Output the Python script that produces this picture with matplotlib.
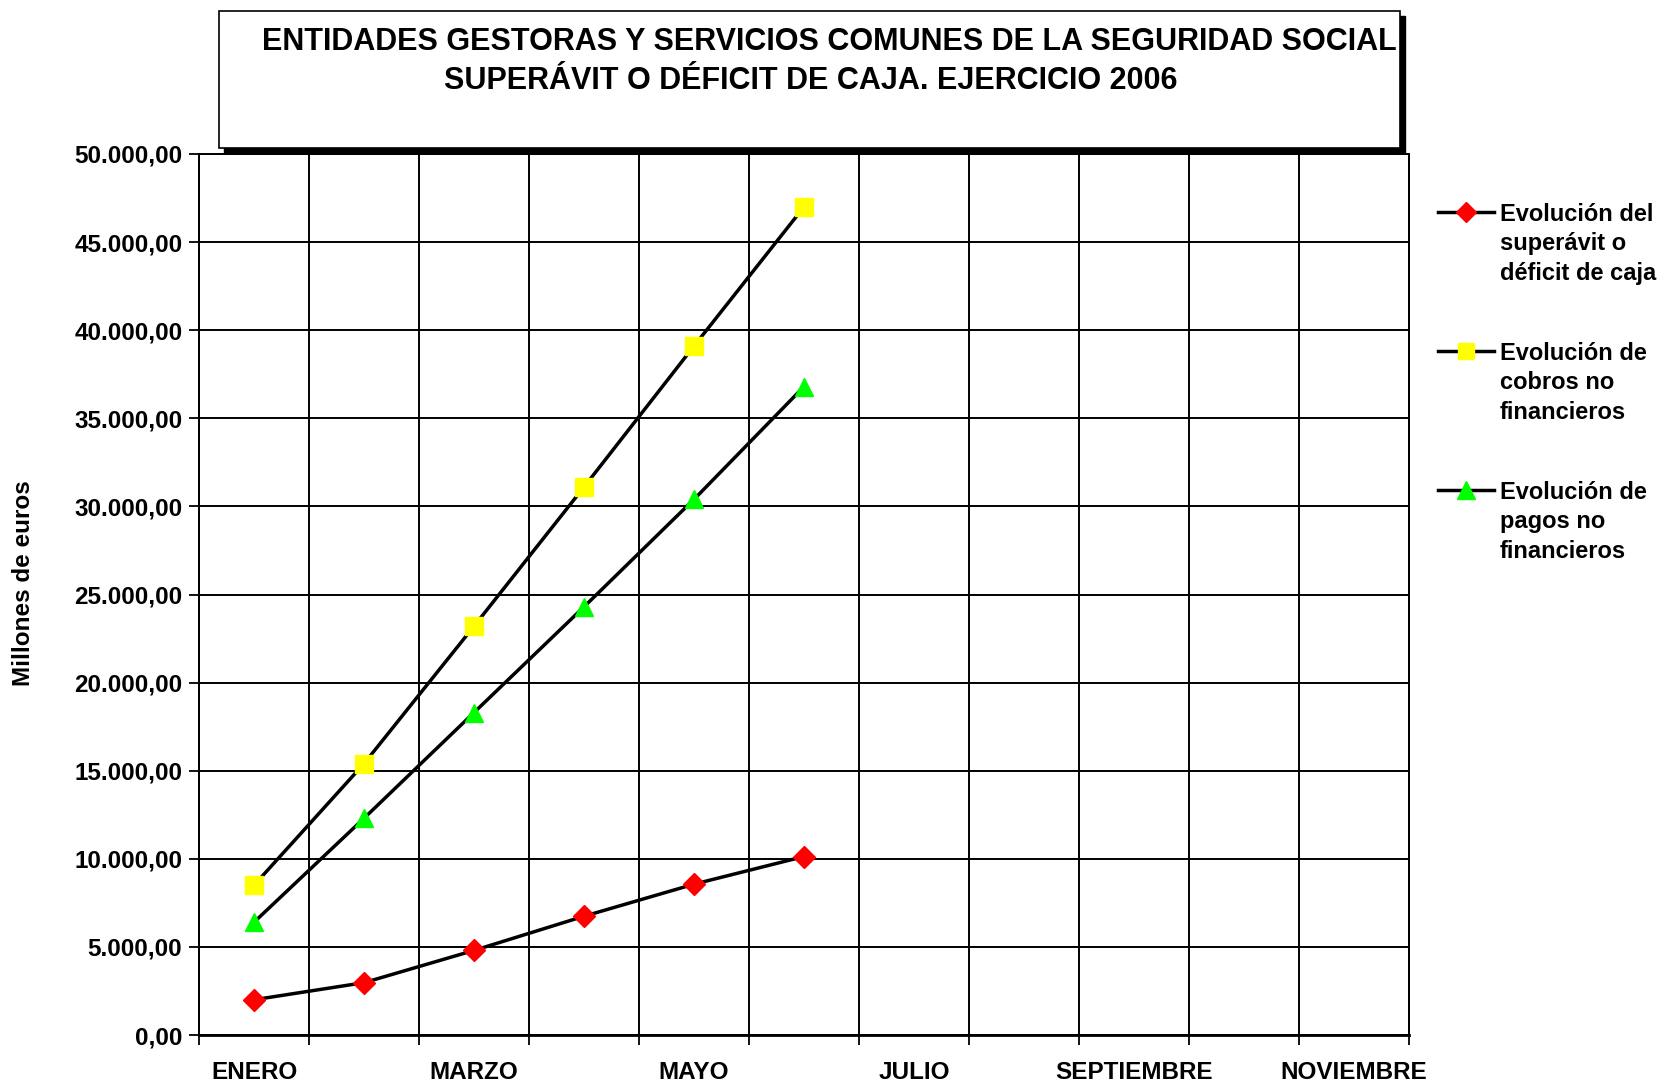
import numpy as np
import matplotlib.pyplot as plt
from matplotlib.lines import Line2D
from matplotlib.patches import Rectangle

plt.rcParams['font.family'] = ['Liberation Sans', 'DejaVu Sans']
plt.rcParams['font.weight'] = 'bold'

# datos (millones de euros)
meses = ['ENERO', 'FEBRERO', 'MARZO', 'ABRIL', 'MAYO', 'JUNIO',
         'JULIO', 'AGOSTO', 'SEPTIEMBRE', 'OCTUBRE', 'NOVIEMBRE']
superavit = [2000, 2970, 4800, 6740, 8560, 10130]
cobros = [8500, 15400, 23200, 31100, 39100, 47000]
pagos = [6400, 12300, 18300, 24300, 30400, 36800]
series_nombres = ['Evolución del\nsuperávit o\ndéficit de caja',
                  'Evolución de\ncobros no\nfinancieros',
                  'Evolución de\npagos no\nfinancieros']
y_ticks = np.arange(0, 50001, 5000)

W, H = 1676, 1083
fig = plt.figure(figsize=(W / 100, H / 100), dpi=100)
ax = fig.add_axes([199 / W, 1 - 1035 / H, (1409 - 199) / W, (1035 - 154) / H])

x = np.arange(len(meses))
estilos = [
    dict(data=superavit, marker='D', color='#ff0000', ms=11.5),
    dict(data=cobros, marker='s', color='#ffff00', ms=12.5),
    dict(data=pagos, marker='^', color='#00ff00', ms=13.5),
]
for est in estilos:
    n = len(est['data'])
    ax.plot(x[:n], est['data'], color='black', lw=2.5, marker=est['marker'],
            ms=est['ms'], mfc=est['color'], mec=est['color'], zorder=3)

ax.set_xlim(-0.5, len(meses) - 0.5)
ax.set_ylim(0, 50000)

# marcas en los limites de categoria, etiquetas cada dos meses
ax.set_xticks(np.arange(-0.5, len(meses), 1))
ax.set_xticklabels([])
ax.set_xticks(x[::2], minor=True)
ax.set_xticklabels(meses[::2], minor=True)
ax.tick_params(axis='x', which='major', length=7, width=1.3, direction='out')
ax.tick_params(axis='x', which='minor', length=0, pad=19, labelsize=17.5)
ax.set_yticks(y_ticks)
ax.set_yticklabels([f'{v:,.2f}'.replace(',', 'X').replace('.', ',').replace('X', '.') for v in y_ticks])
ax.tick_params(axis='y', length=7, width=1.3, pad=5, labelsize=17.5)

ax.grid(True, which='major', color='black', lw=1.4)
for s in ax.spines.values():
    s.set_linewidth(1.4)
ax.spines['bottom'].set_linewidth(2)

fig.text(24 / W, 1 - 583 / H, 'Millones de euros', rotation=90, fontsize=17.5,
         ha='center', va='center')

# caja del titulo con sombra
bx, by, bw, bh = 219 / W, 1 - 148 / H, (1400 - 219) / W, (148 - 11) / H
fig.patches.append(Rectangle((bx + 5 / W, by - 5 / H), bw, bh, transform=fig.transFigure,
                             facecolor='black', edgecolor='black', zorder=4))
fig.patches.append(Rectangle((bx, by), bw, bh, transform=fig.transFigure,
                             facecolor='white', edgecolor='black', lw=1.2, zorder=5))
fig.text(829 / W, 1 - 42 / H, 'ENTIDADES GESTORAS Y SERVICIOS COMUNES DE LA SEGURIDAD SOCIAL',
         ha='center', va='center', fontsize=22, zorder=6)
fig.text(811 / W, 1 - 81 / H, 'SUPERÁVIT O DÉFICIT DE CAJA. EJERCICIO 2006',
         ha='center', va='center', fontsize=22, zorder=6)

# leyenda
for i, (nombre, est) in enumerate(zip(series_nombres, estilos)):
    yl = 1 - (212 + i * 139) / H
    fig.add_artist(Line2D([1438 / W, 1494 / W], [yl, yl], color='black', lw=2.5,
                          transform=fig.transFigure))
    fig.add_artist(Line2D([1466 / W], [yl], marker=est['marker'], ms=est['ms'] - 1,
                          mfc=est['color'], mec=est['color'], transform=fig.transFigure))
    fig.text(1500 / W, yl + 9 / H, nombre, ha='left', va='top', fontsize=17,
             linespacing=1.36)

fig.savefig('out.png', dpi=100)
